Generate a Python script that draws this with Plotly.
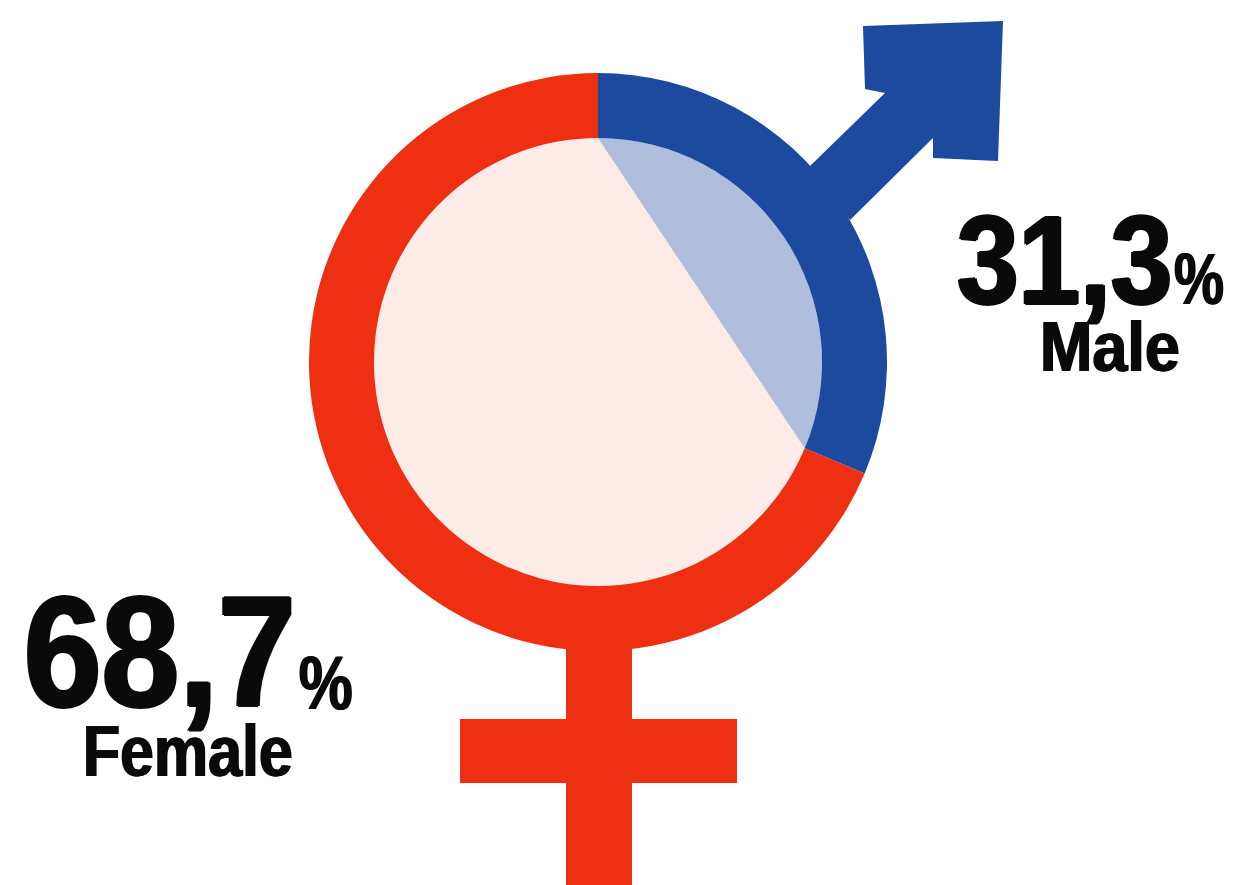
import math
import json
import plotly.graph_objects as go

categories = ["Male", "Female"]
shares = [31.3, 68.7]
share_labels = ["31,3", "68,7"]
colors = ["#1B4A9F", "#EE2F11"]

W, H = 1234, 885
cx, cy, R, r = 598, 362, 289, 224

fig = go.Figure()

# Male segment of the inner disc, from the male share
sweep = 2 * math.pi * shares[0] / 100
steps = [sweep * i / 80 for i in range(81)]
seg_x = [cx + r * math.sin(a) for a in steps]
seg_y = [cy - r * math.cos(a) for a in steps]
fig.add_trace(go.Scatter(
    x=seg_x + seg_x[:1], y=seg_y + seg_y[:1], mode="lines", fill="toself",
    fillcolor="#AEBEDC", line=dict(width=0), hoverinfo="skip", showlegend=False,
))

# Ring drawn through the pie trace, from the shares
fig.add_trace(go.Pie(
    labels=categories, values=shares, hole=r / R, sort=False, direction="clockwise",
    rotation=0, marker=dict(colors=colors, line=dict(width=0)), textinfo="none",
    hoverinfo="label+value", showlegend=False,
    domain=dict(x=[(cx - R) / W, (cx + R) / W], y=[1 - (cy + R) / H, 1 - (cy - R) / H]),
))

shapes = [
    # Inner disc
    dict(type="circle", x0=cx - r, x1=cx + r, y0=cy - r, y1=cy + r,
         fillcolor="#FDEBE8", line=dict(width=0), layer="below"),
    # Male arrow
    dict(type="path", path="M 810 166 L 885 93 L 865 89 L 863 26 L 1003 21 L 998 161 L 933 158 L 933 138 L 850 220 Z",
         fillcolor=colors[0], line=dict(width=0), layer="below"),
    # Female stem and bar
    dict(type="rect", x0=566, x1=632, y0=640, y1=885, fillcolor=colors[1], line=dict(width=0), layer="below"),
    dict(type="rect", x0=460, x1=737, y0=719, y1=783, fillcolor=colors[1], line=dict(width=0), layer="below"),
]

FONT = "Liberation Sans, Arial, sans-serif"
INK = "#0a0a0a"
SH = f"2px 0 {INK}, -2px 0 {INK}, 0 1px {INK}, 0 -1px {INK}"
SH2 = f"1px 0 {INK}, -1px 0 {INK}"

def label(x, y, text, size, shadow):
    return dict(x=x, y=y, xref="x", yref="y", text=text, showarrow=False,
                xanchor="center", yanchor="middle",
                font=dict(family=FONT, size=size, color=INK, weight="bold", shadow=shadow))

annotations = [
    label(160, 651, share_labels[1], 158, SH),
    label(326, 682, "%", 76, SH2),
    label(188, 750, categories[1], 73, SH2),
    label(1064, 260, share_labels[0], 126, SH),
    label(1199, 279, "%", 72, SH2),
    label(1110, 346, categories[0], 71, SH2),
]
# Set widths of the texts, the reference lettering being condensed
text_widths = [272, 54, 210, 215, 50, 140]

fig.update_layout(
    width=W, height=H, margin=dict(l=0, r=0, t=0, b=0),
    paper_bgcolor="white", plot_bgcolor="rgba(0,0,0,0)", showlegend=False,
    xaxis=dict(range=[0, W], visible=False, fixedrange=True),
    yaxis=dict(range=[H, 0], visible=False, fixedrange=True),
    shapes=shapes, annotations=annotations,
)
post = """
document.body.style.margin = '0';
var w = %s;
document.querySelectorAll('.annotation-text').forEach(function (t, i) {
  t.setAttribute('textLength', w[i]);
  t.setAttribute('lengthAdjust', 'spacingAndGlyphs');
});
""" % json.dumps(text_widths)
fig.write_html("out.html", config=dict(displayModeBar=False), post_script=post)
